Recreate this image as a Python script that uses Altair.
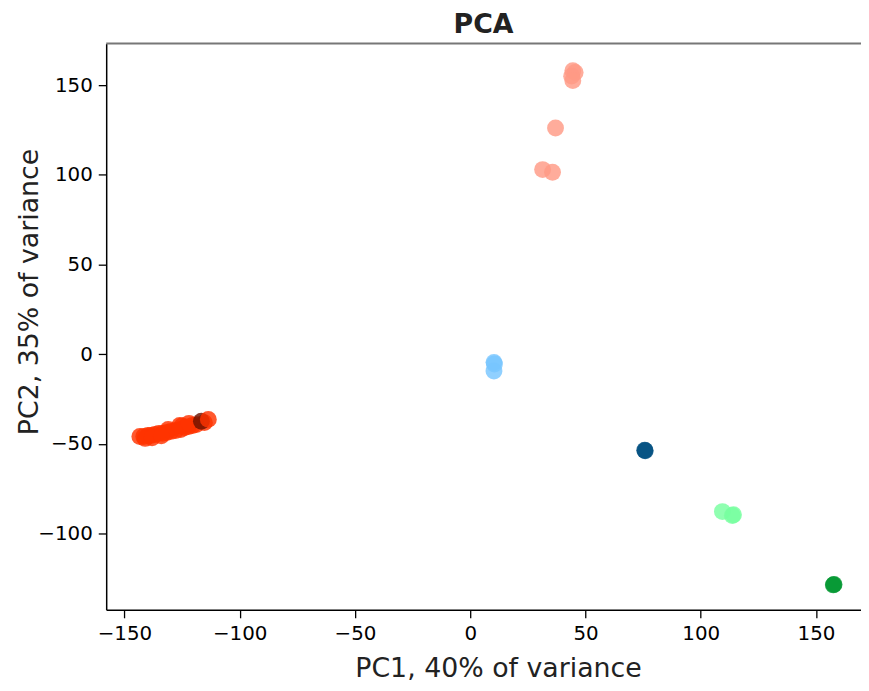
import altair as alt
import pandas as pd

# Sample groups and their PCA coordinates
red_x = [-143.3, -141.6, -139.8, -138.6, -136.8, -135.1, -133.4, -131.7, -129.9,
         -127.8, -125.6, -123.9, -122.2, -120.5, -118.8, -115.3, -125.0, -131.0,
         -141.0, -138.0, -134.0, -126.0, -122.0]
red_y = [-45.9, -45.9, -45.4, -45.4, -44.8, -44.2, -44.2, -43.7, -43.1,
         -42.6, -42.0, -40.9, -40.4, -39.8, -39.3, -38.2, -40.0, -42.0,
         -47.0, -46.6, -45.6, -39.8, -38.6]
darkred_x = [-116.6]
darkred_y = [-37.4]
red_top_x = [-113.6]
red_top_y = [-36.4]
salmon_x = [44.5, 45.5, 44.0, 44.5, 37.0, 31.4, 35.7]
salmon_y = [158.0, 157.0, 155.0, 152.5, 126.1, 102.9, 101.4]
lightblue_x = [10.3, 10.3, 10.5]
lightblue_y = [-4.6, -9.4, -5.5]
darkblue_x = [75.7, 75.9]
darkblue_y = [-53.6, -53.9]
lightgreen_x = [109.4, 113.7, 114.2]
lightgreen_y = [-87.8, -90.0, -89.6]
darkgreen_x = [157.5, 157.8]
darkgreen_y = [-128.7, -128.4]

group_names = ["red", "darkred", "salmon", "lightblue", "darkblue", "lightgreen", "darkgreen"]
group_colors = ["#FF3300", "#6E1200", "#FF9A85", "#78C6FF", "#004E80", "#78FFA0", "#00962F"]

series = [
    ("red", red_x, red_y),
    ("darkred", darkred_x, darkred_y),
    ("red", red_top_x, red_top_y),
    ("salmon", salmon_x, salmon_y),
    ("lightblue", lightblue_x, lightblue_y),
    ("darkblue", darkblue_x, darkblue_y),
    ("lightgreen", lightgreen_x, lightgreen_y),
    ("darkgreen", darkgreen_x, darkgreen_y),
]

rows = []
for name, xs, ys in series:
    for x, y in zip(xs, ys):
        rows.append({"group": name, "PC1": x, "PC2": y, "seq": len(rows)})
df = pd.DataFrame(rows)

x_ticks = [-150, -100, -50, 0, 50, 100, 150]
y_ticks = [-100, -50, 0, 50, 100, 150]

W, H = 761, 571
FONT = "DejaVu Sans"

axis_common = dict(grid=False, domainColor="black", domainWidth=1.5, tickColor="black",
                   tickSize=8, tickWidth=1.3, labelFontSize=20, labelPadding=6,
                   labelColor="black", titleFontSize=27, titleFontWeight="normal",
                   titleColor="#222222", labelFont=FONT, titleFont=FONT,
                   titleBaseline="middle", titleAlign="center")

points = alt.Chart(df).mark_circle(size=290, opacity=0.82).encode(
    x=alt.X("PC1:Q", scale=alt.Scale(domain=[-157.9, 169.5], nice=False, zero=False),
            axis=alt.Axis(values=x_ticks, title="PC1, 40% of variance",
                          titleX=395, titleY=59, **axis_common)),
    y=alt.Y("PC2:Q", scale=alt.Scale(domain=[-142.6, 173.2], nice=False, zero=False),
            axis=alt.Axis(values=y_ticks, title="PC2, 35% of variance",
                          titleX=-77, titleY=250, **axis_common)),
    color=alt.Color("group:N", scale=alt.Scale(domain=group_names, range=group_colors), legend=None),
    order=alt.Order("seq:Q"),
)

top_line = alt.Chart(pd.DataFrame({"a": [0]})).mark_rule(color="#777777", strokeWidth=2).encode(
    x=alt.value(0), x2=alt.value(W), y=alt.value(0)
)

chart = alt.layer(top_line, points).properties(
    width=W, height=H,
    title=alt.TitleParams("PCA", fontSize=27, fontWeight="bold", font=FONT, color="#222222",
                          anchor="middle", offset=4),
    autosize=alt.AutoSizeParams(type="none"),
    padding={"left": 99, "top": 33, "right": 0, "bottom": 77},
).configure_view(stroke=None)

chart.save("out.html", embed_options={"renderer": "svg", "actions": False})
